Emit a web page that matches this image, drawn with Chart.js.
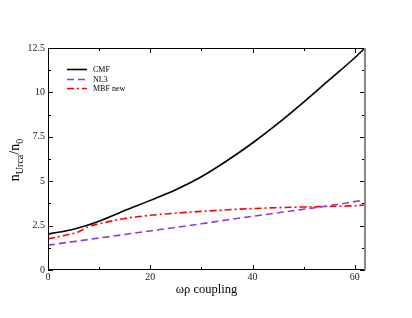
<!DOCTYPE html>
<html>
<head>
<meta charset="utf-8">
<script src="https://cdn.jsdelivr.net/npm/chart.js@4"></script>
<style>
  html, body { margin: 0; padding: 0; background: #fff; }
  #wrap { width: 412px; height: 318px; }
</style>
</head>
<body>
<div id="wrap"><canvas id="chart"></canvas></div>
<script>
// valores
const coupling = [0, 5, 10, 15, 20, 25, 30, 35, 40, 45, 50, 55, 60, 62];
const cmf = [2.02, 2.3, 2.75, 3.35, 3.92, 4.52, 5.25, 6.15, 7.15, 8.25, 9.45, 10.7, 11.95, 12.5];
const nl3 = [1.4, 1.6, 1.8, 2.0, 2.2, 2.4, 2.6, 2.82, 3.02, 3.22, 3.42, 3.62, 3.85, 3.94];
const mbfX = [0, 4, 6, 8, 10, 15, 20, 30, 40, 50, 60, 62];
const mbf = [1.75, 2.0, 2.15, 2.45, 2.6, 2.9, 3.08, 3.3, 3.46, 3.55, 3.62, 3.66];
const xTicks = [0, 20, 40, 60];
const yTicks = [0, 2.5, 5, 7.5, 10, 12.5];

const serif = '"Liberation Serif", "DejaVu Serif", serif';

function pts(xs, ys) {
    return xs.map((x, i) => ({ x: x, y: ys[i] }));
}

// moldura, ticks internos, legenda e títulos
const framePlugin = {
    id: 'frame',
    afterDraw(chart) {
        const ctx = chart.ctx;
        const a = chart.chartArea;
        const xs = chart.scales.x, ys = chart.scales.y;
        ctx.save();
        ctx.strokeStyle = '#000';
        ctx.lineWidth = 1;

        // ticks x (maior a cada 20, menor a cada 10)
        for (let v = 0; v <= 60; v += 10) {
            const px = Math.round(xs.getPixelForValue(v)) + 0.5;
            const len = v % 20 === 0 ? 5 : 3;
            ctx.beginPath();
            ctx.moveTo(px, a.bottom); ctx.lineTo(px, a.bottom - len);
            ctx.moveTo(px, a.top); ctx.lineTo(px, a.top + len);
            ctx.stroke();
        }
        // ticks y (maior a cada 2.5, menor a cada 1.25)
        for (let i = 0; i <= 10; i++) {
            const v = i * 1.25;
            const py = Math.round(ys.getPixelForValue(v)) + 0.5;
            const len = i % 2 === 0 ? 5 : 3;
            ctx.beginPath();
            ctx.moveTo(a.left, py); ctx.lineTo(a.left + len, py);
            ctx.moveTo(a.right, py); ctx.lineTo(a.right - len, py);
            ctx.stroke();
        }

        ctx.beginPath();
        ctx.moveTo(a.right, a.top + 0.5);
        ctx.lineTo(a.left + 0.5, a.top + 0.5);
        ctx.lineTo(a.left + 0.5, a.bottom - 0.5);
        ctx.lineTo(a.right, a.bottom - 0.5);
        ctx.stroke();
        ctx.strokeStyle = '#888';
        ctx.lineWidth = 2;
        ctx.beginPath();
        ctx.moveTo(a.right, a.top);
        ctx.lineTo(a.right, a.bottom);
        ctx.stroke();

        // legenda
        ctx.font = '8px ' + serif;
        ctx.textBaseline = 'middle';
        const rows = [69.5, 79.5, 88.5];
        chart.data.datasets.forEach((ds, i) => {
            const y = rows[i];
            ctx.strokeStyle = ds.borderColor;
            ctx.lineWidth = 1.6;
            ctx.setLineDash(ds.borderDash || []);
            ctx.beginPath();
            ctx.moveTo(67, y); ctx.lineTo(87, y);
            ctx.stroke();
            ctx.setLineDash([]);
            ctx.fillStyle = '#000';
            ctx.fillText(ds.label, 93, y);
        });

        // título x
        ctx.font = '12.5px ' + serif;
        ctx.textAlign = 'center';
        ctx.fillStyle = '#000';
        ctx.fillText('ωρ coupling', (a.left + a.right) / 2, 290);

        // título y: n_Urca / n_0
        ctx.translate(19, 160);
        ctx.rotate(-Math.PI / 2);
        ctx.textAlign = 'left';
        ctx.textBaseline = 'alphabetic';
        const big = '14px ' + serif, small = '10px ' + serif;
        const parts = [['n', big, 0], ['Urca', small, 4], ['/n', big, 0], ['0', small, 4]];
        let w = 0;
        parts.forEach(p => { ctx.font = p[1]; w += ctx.measureText(p[0]).width; });
        let x = -w / 2;
        parts.forEach(p => {
            ctx.font = p[1];
            ctx.fillText(p[0], x, p[2]);
            x += ctx.measureText(p[0]).width;
        });
        ctx.restore();
    }
};

new Chart(document.getElementById('chart').getContext('2d'), {
    type: 'line',
    data: {
        datasets: [
            {
                label: 'CMF',
                data: pts(coupling, cmf),
                borderColor: '#000',
                borderWidth: 1.6
            },
            {
                label: 'NL3',
                data: pts(coupling, nl3),
                borderColor: 'rgb(138, 60, 220)',
                borderWidth: 1.6,
                borderDash: [7, 4]
            },
            {
                label: 'MBF new',
                data: pts(mbfX, mbf),
                borderColor: '#ff0000',
                borderWidth: 1.6,
                borderDash: [7, 3, 2, 3]
            }
        ]
    },
    options: {
        responsive: true,
        maintainAspectRatio: false,
        animation: false,
        layout: { padding: { left: 0, top: 48, right: 47, bottom: 0 } },
        elements: {
            point: { radius: 0 },
            line: { cubicInterpolationMode: 'monotone', fill: false }
        },
        plugins: {
            legend: { display: false },
            tooltip: { enabled: false }
        },
        scales: {
            x: {
                type: 'linear',
                min: 0,
                max: 62,
                grid: { display: false, drawTicks: false, tickLength: 0 },
                border: { display: false },
                afterBuildTicks: s => { s.ticks = xTicks.map(v => ({ value: v })); },
                afterFit: s => { s.height = 48; },
                ticks: {
                    autoSkip: false,
                    maxRotation: 0,
                    padding: 1,
                    color: '#222',
                    font: { family: serif, size: 10 }
                }
            },
            y: {
                min: 0,
                max: 12.5,
                grid: { display: false, drawTicks: false, tickLength: 0 },
                border: { display: false },
                afterBuildTicks: s => { s.ticks = yTicks.map(v => ({ value: v })); },
                afterFit: s => { s.width = 48; },
                ticks: {
                    autoSkip: false,
                    padding: 3,
                    color: '#222',
                    font: { family: serif, size: 10 }
                }
            }
        }
    },
    plugins: [framePlugin]
});
</script>
</body>
</html>
